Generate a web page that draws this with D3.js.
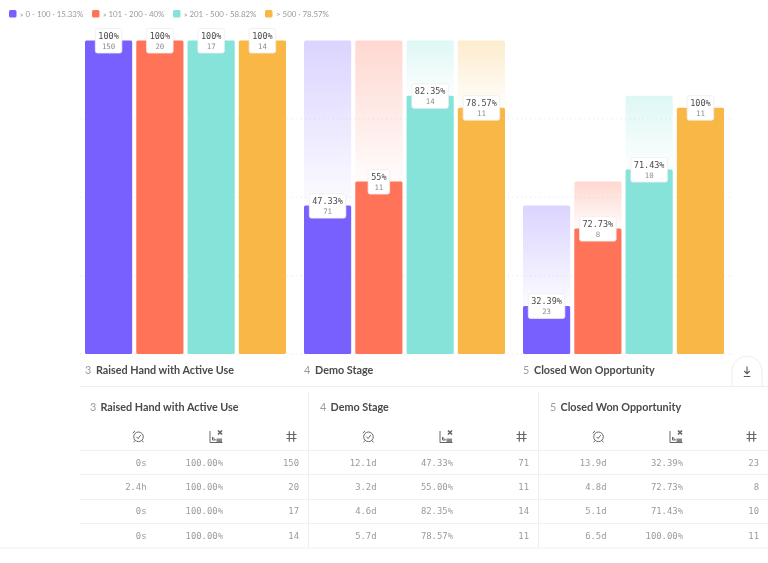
<!DOCTYPE html>
<html><head><meta charset="utf-8">
<style>html,body{margin:0;padding:0;background:#fff}svg{display:block;filter:blur(.45px)}</style>
<script src="https://cdn.jsdelivr.net/npm/d3@7"></script></head>
<body><svg id="c" width="768" height="563"></svg>
<script>
const stageNums=["3","4","5"];
const stages=["Raised Hand with Active Use","Demo Stage","Closed Won Opportunity"];
const segments=["» 0 - 100 · 15.33%","» 101 - 200 · 40%","» 201 - 500 · 58.82%","> 500 · 78.57%"];
const colors=["#7860FF","#FF7358","#85E3DA","#F9B845"];
// overall share of the first stage reached by each segment
const overall0=[100,100,100,100];
const overall1=[47.33,55,82.35,78.57];
const overall2=[15.33,40,58.82,78.57];
const overall=[overall0,overall1,overall2];
const labels0=["100%","100%","100%","100%"];
const labels1=["47.33%","55%","82.35%","78.57%"];
const labels2=["32.39%","72.73%","71.43%","100%"];
const labels=[labels0,labels1,labels2];
const counts0=[150,20,17,14];
const counts1=[71,11,14,11];
const counts2=[23,8,10,11];
const counts=[counts0,counts1,counts2];
const times0=["0s","2.4h","0s","0s"];
const times1=["12.1d","3.2d","4.6d","5.7d"];
const times2=["13.9d","4.8d","5.1d","6.5d"];
const times=[times0,times1,times2];
const pcts0=["100.00%","100.00%","100.00%","100.00%"];
const pcts1=["47.33%","55.00%","82.35%","78.57%"];
const pcts2=["32.39%","72.73%","71.43%","100.00%"];
const pcts=[pcts0,pcts1,pcts2];
const yTicks=[0,25,50,75];

const svg=d3.select("#c");
const sans="'Lato','Open Sans',sans-serif", mono="'DejaVu Sans Mono',monospace";
const y=d3.scaleLinear().domain([0,100]).range([354,40.5]);
const gx=d3.scaleOrdinal().domain(stages).range([85,304,523]);
const bx=d3.scaleBand().domain(d3.range(4)).range([0,201]).paddingInner(0.08).paddingOuter(0);

// legend
const legX=[9,92,173,265];
const leg=svg.append("g").selectAll("g").data(segments).join("g").attr("transform",(d,i)=>`translate(${legX[i]},0)`);
leg.append("rect").attr("y",10).attr("width",7.5).attr("height",7.5).attr("rx",1.5).attr("fill",(d,i)=>colors[i]);
leg.append("text").text(d=>d).attr("x",11).attr("y",16.8).attr("font-family",sans).attr("font-size",7.9).attr("fill","#9a9a9a");

// grid
svg.append("g").selectAll("line").data(yTicks).join("line")
 .attr("x1",80).attr("x2",733).attr("y1",d=>y(d)).attr("y2",d=>y(d))
 .attr("stroke","#e8e8e8").attr("stroke-width",.8).attr("stroke-dasharray","1.5 3");

// gradients
const defs=svg.append("defs");
colors.forEach((c,i)=>{
 const g=defs.append("linearGradient").attr("id","g"+i).attr("x1",0).attr("x2",0).attr("y1",0).attr("y2",1);
 g.append("stop").attr("offset",0).attr("stop-color",c).attr("stop-opacity",i==1?.28:.27);
 g.append("stop").attr("offset",1).attr("stop-color",c).attr("stop-opacity",.02);
});

// bars
stages.forEach((s,k)=>{
 const g=svg.append("g").attr("transform",`translate(${gx(s)},0)`);
 const idx=d3.range(4);
 if(k>0){
  g.selectAll("rect.ghost").data(idx).join("rect").attr("class","ghost")
   .attr("x",i=>bx(i)).attr("width",bx.bandwidth()).attr("rx",2)
   .attr("y",i=>y(overall[k-1][i])).attr("height",i=>Math.max(0,y(overall[k][i])-y(overall[k-1][i])))
   .attr("fill",i=>`url(#g${i})`);
 }
 g.selectAll("rect.bar").data(idx).join("rect").attr("class","bar")
  .attr("x",i=>bx(i)).attr("width",bx.bandwidth()).attr("rx",1.5)
  .attr("y",i=>y(overall[k][i])).attr("height",i=>y(0)-y(overall[k][i]))
  .attr("fill",i=>colors[i]);
 const lab=g.selectAll("g.lab").data(idx).join("g").attr("class","lab")
  .attr("transform",i=>`translate(${bx(i)+bx.bandwidth()/2},${y(overall[k][i])})`);
 lab.append("rect").attr("x",i=>-(labels[k][i].length*5+6.5)/2).attr("width",i=>labels[k][i].length*5+6.5)
  .attr("y",-12).attr("height",24.5).attr("rx",2).attr("fill","#fff").attr("stroke","#eeeeee").attr("stroke-width",.8);
 lab.append("text").text(i=>labels[k][i]).attr("text-anchor","middle").attr("y",-1.5)
  .attr("font-family",mono).attr("font-size",8.5).attr("fill","#4a4a4a");
 lab.append("text").text(i=>counts[k][i]).attr("text-anchor","middle").attr("y",8.5)
  .attr("font-family",mono).attr("font-size",7.4).attr("fill","#8d8d8d");
 // chart caption
 g.append("text").text(stageNums[k]).attr("y",373.5).attr("font-family",sans).attr("font-size",10.8).attr("fill","#9b9b9b");
 g.append("text").text(s).attr("x",stageNums[k]?11:0).attr("y",373.5).attr("font-family",sans).attr("font-weight",700).attr("font-size",10.8).attr("fill","#4a4a4a");
});

// rules
svg.append("line").attr("x1",80).attr("x2",768).attr("y1",386.5).attr("y2",386.5).attr("stroke","#efefef");
const rowY=d3.scalePoint().domain(d3.range(4)).range([462.5,535.5]);
const rowRules=[450.5,474.5,499.5,523.5,548];
svg.append("g").selectAll("line").data(rowRules).join("line")
 .attr("x1",(d,i)=>i==4?0:80).attr("x2",768).attr("y1",d=>d).attr("y2",d=>d).attr("stroke","#f1f1f1");
svg.append("g").selectAll("line").data([308.5,538.5]).join("line")
 .attr("x1",d=>d).attr("x2",d=>d).attr("y1",392).attr("y2",548).attr("stroke","#efefef");

// table
const tableX=[90,320,550];
const colTime=[146.5,376.5,606.5], colPct=[223,453,683], colNum=[299,529,759];
const iconStroke="#666";
function clock(g,cx,cy){
 g=g.append("g").attr("transform",`translate(${cx},${cy})`).attr("fill","none").attr("stroke",iconStroke).attr("stroke-width",1);
 g.append("circle").attr("r",4.8).attr("cy",.3);
 g.append("path").attr("d","M-2,0.3L-.4,2L2.3,-1.4M-5.6,-3.2L-3.6,-5.6M-3.6,4L-4.8,5.8M3.6,4L4.8,5.8");
}
function stat(g,cx,cy){
 g=g.append("g").attr("transform",`translate(${cx},${cy})`).attr("fill","none").attr("stroke",iconStroke).attr("stroke-width",1);
 g.append("path").attr("d","M-6,-5.5V6H6.5M-3.5,3.5V0.5L-.5,3.5Z");
 g.append("rect").attr("x",.5).attr("y",2).attr("width",5.5).attr("height",3.5).attr("fill","#888").attr("stroke","none");
 g.append("path").attr("d","M2,-6L6,-2M6,-6L2,-2").attr("stroke-width",1.7);
}
function hash(g,cx,cy){
 g=g.append("g").attr("transform",`translate(${cx},${cy})`).attr("fill","none").attr("stroke",iconStroke).attr("stroke-width",1.2);
 g.append("path").attr("d","M-2.2,-5.2V5.2M2.2,-5.2V5.2M-5,-2H5M-5,2H5");
}
stages.forEach((s,k)=>{
 const g=svg.append("g");
 g.append("text").text(stageNums[k]).attr("x",tableX[k]).attr("y",410.5).attr("font-family",sans).attr("font-size",10.8).attr("fill","#9b9b9b");
 g.append("text").text(s).attr("x",tableX[k]+10.5).attr("y",410.5).attr("font-family",sans).attr("font-weight",700).attr("font-size",10.8).attr("fill","#4a4a4a");
 clock(g,colTime[k]-8,436.5); stat(g,colPct[k]-7,436.5); hash(g,colNum[k]-7.5,436.5);
 [[times[k],colTime[k]],[pcts[k],colPct[k]],[counts[k],colNum[k]]].forEach(([vals,x])=>{
  g.append("g").selectAll("text").data(vals).join("text").text(d=>d)
   .attr("x",x).attr("y",(d,i)=>rowY(i)+3).attr("text-anchor","end")
   .attr("font-family",mono).attr("font-size",8.9).attr("fill","#9a9a9a");
 });
});

// download tab
svg.append("path").attr("d","M732,386V371A15,15 0 0 1 762,371V386").attr("fill","#fff").attr("stroke","#ececec");
svg.append("path").attr("d","M747,366.5V373.5M744.3,371L747,373.8L749.7,371M743.8,376.5H750.2")
 .attr("fill","none").attr("stroke","#555").attr("stroke-width",1.1);
</script></body></html>
